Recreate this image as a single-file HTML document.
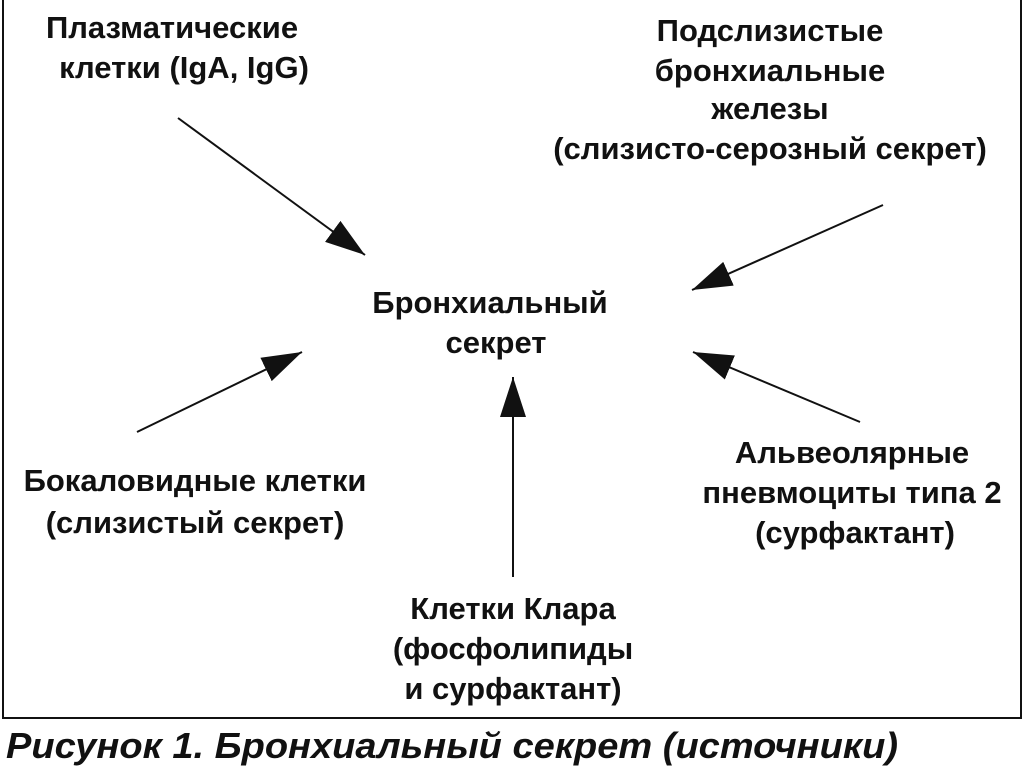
<!DOCTYPE html>
<html><head><meta charset="utf-8"><style>
html,body{margin:0;padding:0;background:#fff;width:1024px;height:767px;overflow:hidden}
svg{display:block}
text{font-family:"Liberation Sans",sans-serif;font-weight:bold;font-size:31px;fill:#111;text-anchor:middle}
.cap{font-style:italic;font-size:36px;text-anchor:start}
</style></head><body>
<svg width="1024" height="767" viewBox="0 0 1024 767">
<defs><marker id="a" markerWidth="40" markerHeight="26" refX="40" refY="13" orient="auto" markerUnits="userSpaceOnUse"><path d="M0,0 L40,13 L0,26 Z" fill="#111"/></marker></defs>
<rect x="3" y="-5" width="1018" height="723" fill="none" stroke="#111" stroke-width="2"/>
<text x="172" y="38">Плазматические</text>
<text x="184" y="78">клетки (IgA, IgG)</text>
<text x="770" y="41">Подслизистые</text>
<text x="770" y="81">бронхиальные</text>
<text x="770" y="119">железы</text>
<text x="770" y="159">(слизисто-серозный секрет)</text>
<text x="490" y="313">Бронхиальный</text>
<text x="496" y="353">секрет</text>
<text x="195" y="491">Бокаловидные клетки</text>
<text x="195" y="533">(слизистый секрет)</text>
<text x="852" y="463">Альвеолярные</text>
<text x="852" y="503">пневмоциты типа 2</text>
<text x="855" y="543">(сурфактант)</text>
<text x="513" y="619">Клетки Клара</text>
<text x="513" y="659">(фосфолипиды</text>
<text x="513" y="699">и сурфактант)</text>
<g stroke="#111" stroke-width="2" marker-end="url(#a)">
<line x1="178" y1="118" x2="365" y2="255"/>
<line x1="883" y1="205" x2="692" y2="290"/>
<line x1="137" y1="432" x2="302" y2="352"/>
<line x1="513" y1="577" x2="513" y2="377"/>
<line x1="860" y1="422" x2="693" y2="352"/>
</g>
<text class="cap" x="6" y="758" textLength="892" lengthAdjust="spacingAndGlyphs">Рисунок 1. Бронхиальный секрет (источники)</text>
</svg>
</body></html>
